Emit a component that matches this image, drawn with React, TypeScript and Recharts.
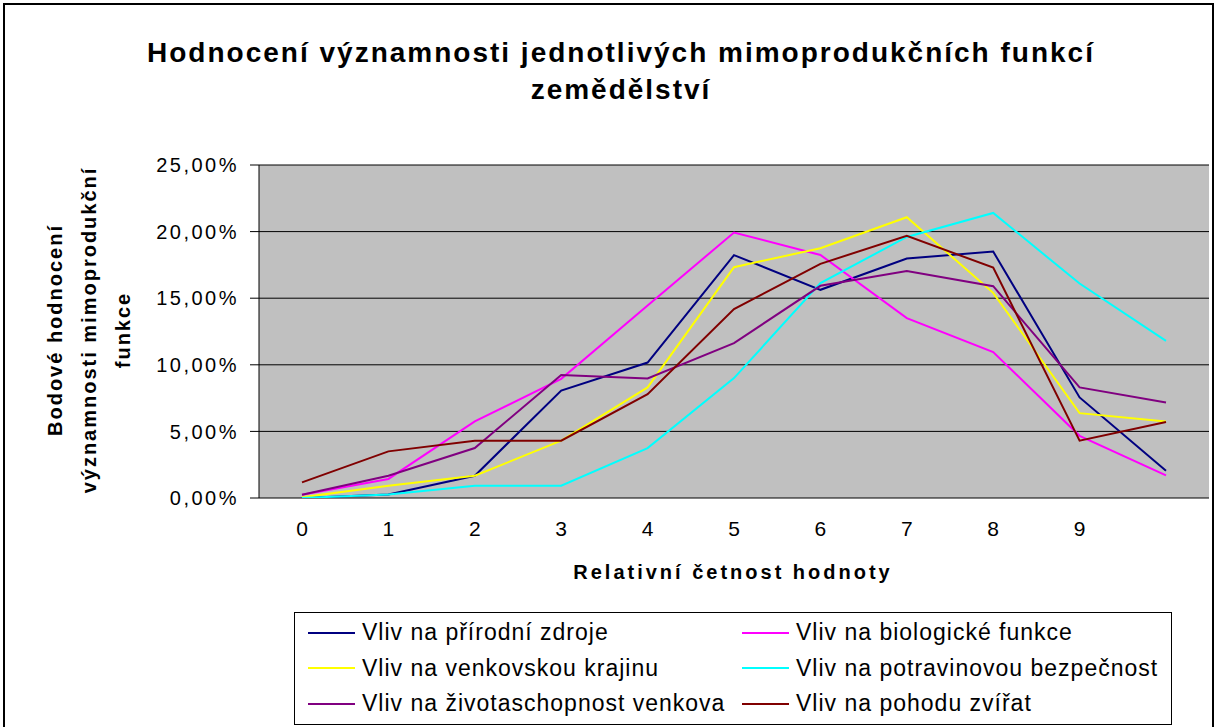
import { LineChart, Line, XAxis, YAxis, CartesianGrid } from 'recharts';

const FONT = '"Liberation Sans", Arial, sans-serif';

// category axis: 0..9 plus one unlabeled slot at the end
const categories = ['0', '1', '2', '3', '4', '5', '6', '7', '8', '9', ''];
const boundaryTicks = [0, 1, 2, 3, 4, 5, 6, 7, 8, 9, 10, 11];
const yTicks = [0, 5, 10, 15, 20, 25];

// values in percent
const prirodniZdroje = [0.0, 0.27, 1.67, 8.07, 10.17, 18.23, 15.63, 17.98, 18.5, 7.55, 2.05];
const biologickeFunkce = [0.25, 1.43, 5.75, 8.95, 14.45, 19.93, 18.25, 13.5, 10.95, 4.67, 1.7];
const venkovskaKrajina = [0.05, 0.92, 1.67, 4.3, 8.3, 17.33, 18.75, 21.08, 15.4, 6.37, 5.75];
const potravinovaBezpecnost = [0.0, 0.27, 0.92, 0.92, 3.75, 9.0, 16.13, 19.6, 21.4, 16.1, 11.8];
const zivotaschopnostVenkova = [0.25, 1.67, 3.75, 9.23, 8.97, 11.63, 15.93, 17.05, 15.9, 8.3, 7.17];
const pohodaZvirat = [1.17, 3.5, 4.3, 4.3, 7.8, 14.18, 17.58, 19.68, 17.3, 4.3, 5.7];

const seriesList = [
  { key: 'prirodni', name: 'Vliv na přírodní zdroje', color: '#000080', values: prirodniZdroje },
  { key: 'biologicke', name: 'Vliv na biologické funkce', color: '#FF00FF', values: biologickeFunkce },
  { key: 'krajina', name: 'Vliv na venkovskou krajinu', color: '#FFFF00', values: venkovskaKrajina },
  { key: 'potraviny', name: 'Vliv na potravinovou bezpečnost', color: '#00FFFF', values: potravinovaBezpecnost },
  { key: 'zivotaschopnost', name: 'Vliv na životaschopnost venkova', color: '#800080', values: zivotaschopnostVenkova },
  { key: 'pohoda', name: 'Vliv na pohodu zvířat', color: '#800000', values: pohodaZvirat },
];

const data = categories.map((cat, i) => {
  const row: Record<string, string | number> = { cat, idx: i };
  seriesList.forEach((s) => {
    row[s.key] = s.values[i];
  });
  return row;
});

const pct = (v: number) => v.toFixed(2).replace('.', ',') + '%';

export default function App() {
  return (
    <div style={{ position: 'absolute', left: 0, top: 0, width: 1215, height: 727, overflow: 'hidden', background: '#fff', fontFamily: FONT }}>
      {/* outer chart frame */}
      <div style={{ position: 'absolute', left: 3, top: 3, width: 1211, height: 760, border: '2px solid #000', boxSizing: 'border-box' }} />

      {/* title */}
      <div style={{ position: 'absolute', left: 0, width: 1242, top: 34, textAlign: 'center', fontWeight: 'bold', fontSize: 28, lineHeight: '37px', letterSpacing: 2, color: '#000' }}>
        Hodnocení významnosti jednotlivých mimoprodukčních funkcí
        <br />
        zemědělství
      </div>

      {/* y axis title */}
      <div style={{ position: 'absolute', left: 88 - 200, top: 330 - 50, width: 400, height: 100, transform: 'rotate(-90deg)', textAlign: 'center', fontWeight: 'bold', fontSize: 20, lineHeight: '34px', letterSpacing: 2, color: '#000' }}>
        Bodové hodnocení
        <br />
        významnosti mimoprodukční
        <br />
        funkce
      </div>

      {/* x axis title */}
      <div style={{ position: 'absolute', left: 733 - 300, width: 600, top: 560, textAlign: 'center', fontWeight: 'bold', fontSize: 20, lineHeight: '24px', letterSpacing: 3, color: '#000' }}>
        Relativní četnost hodnoty
      </div>

      <div style={{ position: 'absolute', left: 0, top: 0 }}>
        <LineChart width={1215} height={727} data={data} margin={{ top: 165, right: 6, bottom: 189, left: 159 }}>
          <CartesianGrid vertical={false} stroke="#000" fill="#C0C0C0" fillOpacity={1} />
          <XAxis
            xAxisId="b"
            type="number"
            dataKey="idx"
            domain={[0, 11]}
            ticks={boundaryTicks}
            allowDataOverflow
            height={0}
            tickSize={9}
            tickFormatter={() => ''}
            stroke="#000"
            tickLine={{ stroke: '#000' }}
            axisLine={{ stroke: '#000' }}
          />
          <XAxis
            dataKey="cat"
            type="category"
            interval={0}
            height={40}
            padding={{ left: 43, right: 43 }}
            tickLine={false}
            axisLine={false}
            tickSize={0}
            tickMargin={23}
            tick={{ fill: '#000', fontSize: 21, fontFamily: FONT }}
          />
          <XAxis xAxisId="t" orientation="top" type="number" domain={[0, 1]} height={0} tick={false} tickLine={false} axisLine={{ stroke: '#808080' }} />
          <YAxis
            domain={[0, 25]}
            ticks={yTicks}
            allowDataOverflow
            width={100}
            tickSize={9}
            tickMargin={11}
            tickFormatter={pct}
            tick={{ fill: '#000', fontSize: 20, fontFamily: FONT, letterSpacing: 2.5 }}
            tickLine={{ stroke: '#000' }}
            axisLine={{ stroke: '#000' }}
          />
          <YAxis yAxisId="r" orientation="right" domain={[0, 1]} width={0} tick={false} tickLine={false} axisLine={{ stroke: '#808080' }} />
          {seriesList.map((s) => (
            <Line
              key={s.key}
              dataKey={s.key}
              name={s.name}
              type="linear"
              stroke={s.color}
              strokeWidth={2}
              dot={false}
              isAnimationActive={false}
            />
          ))}
        </LineChart>
      </div>

      {/* legend */}
      <div style={{ position: 'absolute', left: 294, top: 612, width: 878, height: 113, border: '1px solid #000', boxSizing: 'border-box', background: '#fff', display: 'grid', gridTemplateColumns: '434px 1fr', gridAutoRows: '35.5px', paddingTop: 2 }}>
        {seriesList.map((s) => (
          <div key={s.key} style={{ display: 'flex', alignItems: 'center', paddingLeft: 13 }}>
            <span style={{ display: 'inline-block', width: 47, height: 2, background: s.color, marginRight: 7 }} />
            <span style={{ fontSize: 23, letterSpacing: 1, color: '#000', whiteSpace: 'nowrap' }}>{s.name}</span>
          </div>
        ))}
      </div>
    </div>
  );
}
